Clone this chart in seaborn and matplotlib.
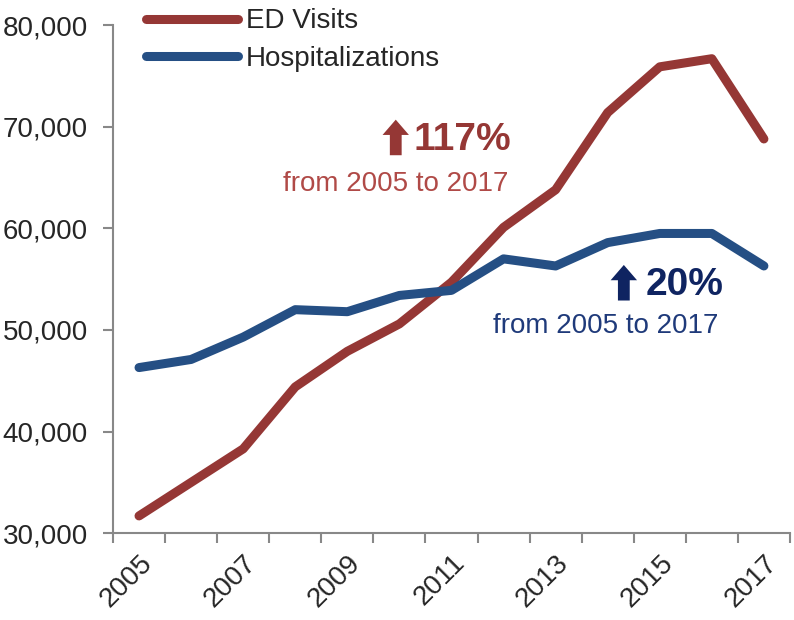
import matplotlib
matplotlib.use("Agg")
import matplotlib.pyplot as plt
from matplotlib.ticker import FuncFormatter, MultipleLocator
import numpy as np
import pandas as pd
import seaborn as sns

years = list(range(2005, 2018))
ed_visits = [31700, 35000, 38300, 44400, 47900, 50600, 54700,
             60100, 63800, 71400, 75900, 76700, 68800]
hospitalizations = [46300, 47100, 49300, 52000, 51800, 53400, 53900,
                    57000, 56300, 58600, 59500, 59500, 56300]
series_names = ["ED Visits", "Hospitalizations"]
year_labels = [str(y) for y in years[::2]]

RED = "#953735"
BLUE = "#254f84"
NAVY = "#0f2461"

df = pd.DataFrame({
    "year": years * 2,
    "count": ed_visits + hospitalizations,
    "series": [series_names[0]] * len(years) + [series_names[1]] * len(years),
})

sns.set_theme(style="white")
plt.rcParams["font.family"] = ["Liberation Sans", "DejaVu Sans"]

fig = plt.figure(figsize=(7.94, 6.2), dpi=100)
ax = fig.add_axes([0.1423, 0.140, 0.8526, 0.8194])

sns.lineplot(data=df, x="year", y="count", hue="series",
             palette={series_names[0]: RED, series_names[1]: BLUE},
             linewidth=6.5, ax=ax, legend=True)
for ln in ax.lines:
    ln.set_solid_capstyle("round")

ax.set_xlim(2004.5, 2017.5)
ax.set_ylim(30000, 80000)
ax.set_xlabel("")
ax.set_ylabel("")

# y axis
ax.yaxis.set_major_locator(MultipleLocator(10000))
ax.yaxis.set_major_formatter(FuncFormatter(lambda v, p: f"{int(v):,}"))
ax.tick_params(axis="y", which="major", length=7, width=1.5, color="#888888",
               labelsize=20, pad=11, left=True)

# x axis: labels every other year, tick marks at category boundaries
ax.set_xticks(years[::2])
ax.set_xticklabels(year_labels, rotation=45, ha="right", rotation_mode="anchor")
ax.set_xticks(np.arange(2004.5, 2018, 1.0), minor=True)
ax.tick_params(axis="x", which="major", length=0, labelsize=20, pad=12)
ax.tick_params(axis="x", which="minor", length=7, width=1.5, color="#888888",
               bottom=True)

for side in ["top", "right"]:
    ax.spines[side].set_visible(False)
for side in ["left", "bottom"]:
    ax.spines[side].set_color("#888888")
    ax.spines[side].set_linewidth(1.5)

leg = ax.legend(loc="upper left", bbox_to_anchor=(0.0325, 1.055), frameon=False,
                fontsize=20, handlelength=3.3, handletextpad=0.3,
                labelspacing=0.42, borderaxespad=0)
for h in leg.get_lines():
    h.set_linewidth(6.5)
    h.set_solid_capstyle("round")

arrow_style = "simple,head_width=1.9,head_length=1.1,tail_width=0.85"

# ED visits change
ax.annotate("", xy=(2009.93, 70700), xytext=(2009.93, 67200),
            arrowprops=dict(arrowstyle=arrow_style, mutation_scale=10,
                            color=RED, lw=0, shrinkA=0, shrinkB=0))
ax.text(2010.28, 68700, "117%", color=RED, fontsize=28, fontweight="bold",
        ha="left", va="center")
ax.text(2009.93, 64350, "from 2005 to 2017", color="#b04a47", fontsize=20,
        ha="center", va="center")

# Hospitalizations change
ax.annotate("", xy=(2014.31, 56400), xytext=(2014.31, 52900),
            arrowprops=dict(arrowstyle=arrow_style, mutation_scale=10,
                            color=NAVY, lw=0, shrinkA=0, shrinkB=0))
ax.text(2014.72, 54400, "20%", color=NAVY, fontsize=28, fontweight="bold",
        ha="left", va="center")
ax.text(2013.96, 50370, "from 2005 to 2017", color="#1f3a7a", fontsize=20,
        ha="center", va="center")

fig.savefig("out.png", dpi=100)
